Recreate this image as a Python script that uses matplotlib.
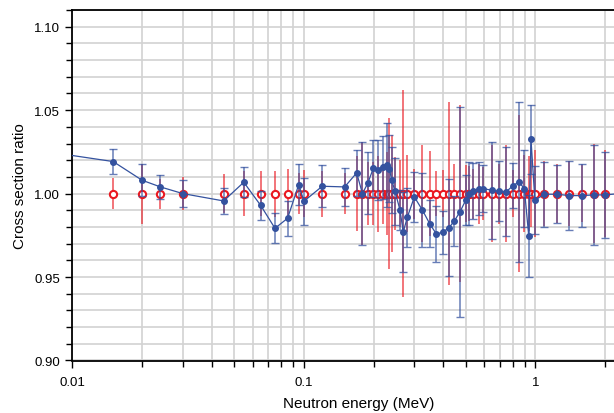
import matplotlib
matplotlib.use("Agg")
import math
import matplotlib.pyplot as plt
from matplotlib.ticker import FixedLocator, FixedFormatter, MultipleLocator, LogLocator, NullFormatter

plt.rcParams['font.family'] = ['Liberation Sans', 'DejaVu Sans']

# Blue series: measured ratio (energy MeV, ratio, uncertainty)
blue_x = [0.005, 0.015, 0.020, 0.024, 0.030, 0.045, 0.055, 0.065, 0.075, 0.085,
          0.095, 0.100, 0.120, 0.150, 0.169, 0.179, 0.189, 0.1995, 0.2096, 0.220,
          0.2293, 0.2339, 0.2393, 0.2475, 0.260, 0.2687, 0.2797, 0.300, 0.3247, 0.3494,
          0.3733, 0.3977, 0.4235, 0.4464, 0.472, 0.500, 0.518, 0.5394, 0.5706, 0.5957,
          0.647, 0.6966, 0.7464, 0.798, 0.848, 0.896, 0.936, 0.957, 0.995, 1.092,
          1.244, 1.397, 1.594, 1.79, 2.0, 2.3]
blue_y = [1.029, 1.0192, 1.008, 1.004, 1.000, 0.9956, 1.0068, 0.993, 0.9792, 0.9852,
          1.0054, 0.9954, 1.0044, 1.004, 1.0124, 1.000, 1.0064, 1.0152, 1.0144, 1.0158,
          1.0172, 1.015, 1.0082, 1.0014, 0.9902, 0.977, 0.9858, 0.998, 0.9902, 0.982,
          0.9758, 0.9768, 0.9796, 0.9836, 0.989, 0.996, 1.000, 1.0016, 1.003, 1.003,
          1.002, 1.0014, 1.001, 1.0046, 1.007, 1.003, 0.9746, 1.0326, 0.996, 0.9996,
          0.9996, 0.9988, 0.9988, 0.9992, 0.9992, 1.000]
blue_err = [0.008, 0.0075, 0.0096, 0.0074, 0.008, 0.0077, 0.009, 0.0087, 0.009, 0.0104,
            0.0125, 0.014, 0.0126, 0.0112, 0.014, 0.031, 0.0187, 0.017, 0.018, 0.019,
            0.025, 0.020, 0.020, 0.020, 0.012, 0.0238, 0.0177, 0.015, 0.022, 0.014,
            0.017, 0.0128, 0.029, 0.015, 0.0628, 0.015, 0.019, 0.017, 0.016, 0.014,
            0.029, 0.018, 0.0267, 0.0135, 0.048, 0.023, 0.0245, 0.0206, 0.0205, 0.0195,
            0.0175, 0.0208, 0.0187, 0.0297, 0.026, 0.026]

# Red series: reference ratio = 1 with its uncertainty
red_x = blue_x[1:]
red_y = [1.0] * len(red_x)
red_err = [0.0094, 0.018, 0.009, 0.0098, 0.0115, 0.0135, 0.0134, 0.0138, 0.0146,
           0.0125, 0.014, 0.0138, 0.0125, 0.0224, 0.031, 0.019, 0.019, 0.0228, 0.018,
           0.025, 0.045, 0.035, 0.022, 0.020, 0.062, 0.023, 0.015, 0.029, 0.0256,
           0.0136, 0.014, 0.055, 0.018, 0.053, 0.017, 0.0165, 0.015, 0.018, 0.016,
           0.029, 0.018, 0.029, 0.014, 0.047, 0.023, 0.0226, 0.020, 0.026, 0.0195,
           0.0175, 0.0196, 0.017, 0.0297, 0.026, 0.026]

x_ticks = [0.01, 0.1, 1]
x_labels = ["0.01", "0.1", "1"]
y_ticks = [0.90, 0.95, 1.00, 1.05, 1.10]
y_labels = ["0.90", "0.95", "1.00", "1.05", "1.10"]

BLUE = '#34529f'
RED = '#ea1820'

fig = plt.figure(figsize=(6.14, 4.14), dpi=100)
W, H = 614.0, 414.0
left_px, top_px, bot_px = 72.4, 11.0, 361.5
decade_px = 231.5
xmin, xmax = 0.01, 3.0
width_px = decade_px * (math.log10(xmax) - math.log10(xmin))
ax = fig.add_axes([left_px / W, (H - bot_px) / H, width_px / W, (bot_px - top_px) / H])

ax.set_xscale('log')
ax.set_xlim(xmin, xmax)
ax.set_ylim(0.90, 1.11)

ax.set_axisbelow(True)
ax.xaxis.set_major_locator(FixedLocator(x_ticks))
ax.xaxis.set_major_formatter(FixedFormatter(x_labels))
ax.xaxis.set_minor_locator(LogLocator(base=10, subs=range(2, 10)))
ax.xaxis.set_minor_formatter(NullFormatter())
ax.yaxis.set_major_locator(FixedLocator(y_ticks))
ax.yaxis.set_major_formatter(FixedFormatter(y_labels))
ax.yaxis.set_minor_locator(MultipleLocator(0.01))
ax.grid(True, which='both', color='#d2d2d2', linewidth=1.2)

# Red error bars and circles
ax.errorbar(red_x, red_y, yerr=red_err, fmt='none', ecolor=RED, elinewidth=1.2,
            alpha=0.7, capsize=0, zorder=2)
ax.plot(red_x, red_y, linestyle='none', marker='o', markersize=5.2,
        markerfacecolor='white', markeredgecolor=RED, markeredgewidth=1.5, zorder=3)

# Blue error bars, line, markers
ax.errorbar(blue_x, blue_y, yerr=blue_err, fmt='none', ecolor=BLUE, elinewidth=1.1,
            alpha=0.75, capsize=2.6, capthick=1.0, zorder=4)
ax.plot(blue_x, blue_y, color=BLUE, linewidth=0.9, marker='o', markersize=4.0,
        markerfacecolor=BLUE, markeredgecolor=BLUE, zorder=5)

for s in ['left', 'bottom', 'top']:
    ax.spines[s].set_linewidth(1.3)
    ax.spines[s].set_color('black')
ax.spines['right'].set_visible(False)

ax.tick_params(axis='both', which='both', direction='out', top=False, right=False,
               labelsize=9.5, width=1.0, color='black')
ax.tick_params(axis='both', which='major', length=5, pad=4)
ax.tick_params(axis='both', which='minor', length=4)
ax.tick_params(axis='x', which='major', pad=6)

ax.set_xlabel('Neutron energy (MeV)', fontsize=11, labelpad=6)
ax.set_ylabel('Cross section ratio', fontsize=11, labelpad=5)

fig.savefig('out.png', dpi=100)
